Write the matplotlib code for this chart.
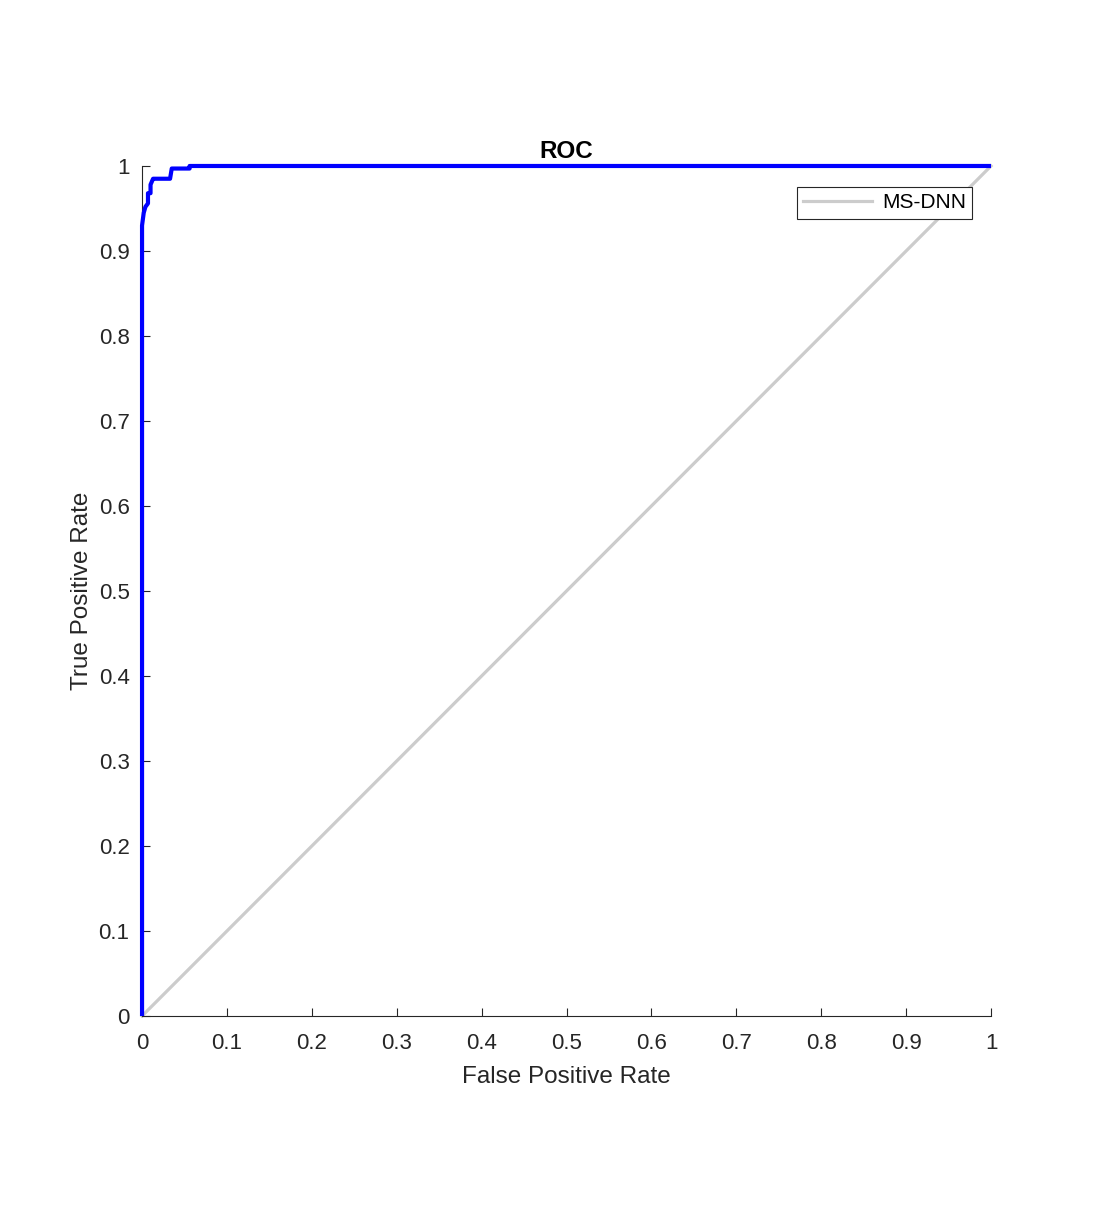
import matplotlib.pyplot as plt
import numpy as np

# ROC curve
fpr = [0, 0, 0.002, 0.004, 0.007, 0.007, 0.010, 0.010, 0.013, 0.015, 0.033, 0.035, 0.056, 0.056, 1.0]
tpr = [0, 0.93, 0.945, 0.952, 0.956, 0.968, 0.968, 0.978, 0.985, 0.985, 0.985, 0.997, 0.997, 1.0, 1.0]
chance = [0, 1]
ticks = np.round(np.arange(0, 1.01, 0.1), 1)
tick_labels = ['0'] + ['%.1f' % t for t in ticks[1:-1]] + ['1']

plt.rcParams['font.family'] = ['Liberation Sans', 'DejaVu Sans']
txt = '#262626'

fig = plt.figure(figsize=(10.96, 12.25), dpi=100)
ax = fig.add_axes([0.1296, 0.1706, 0.7746, 0.6939])

ax.plot(fpr, tpr, color='#0000ff', lw=3, solid_capstyle='butt', clip_on=False, zorder=3)
ax.plot(chance, chance, color='#cccccc', lw=2.3, label='MS-DNN', clip_on=False, zorder=2)

ax.set_xlim(0, 1)
ax.set_ylim(0, 1)
ax.set_xticks(ticks)
ax.set_xticklabels(tick_labels)
ax.set_yticks(ticks)
ax.set_yticklabels(tick_labels)
ax.spines['top'].set_visible(False)
ax.spines['right'].set_visible(False)
for s in ('left', 'bottom'):
    ax.spines[s].set_color(txt)
    ax.spines[s].set_linewidth(0.8)
ax.tick_params(direction='in', length=6, width=0.8, colors=txt, labelsize=16)
ax.tick_params(axis='x', pad=12)
ax.tick_params(axis='y', pad=9)

ax.set_xlabel('False Positive Rate', fontsize=17.5, color=txt, labelpad=9)
ax.set_ylabel('True Positive Rate', fontsize=17.5, color=txt, labelpad=4)
ax.set_title('ROC', fontsize=17.5, fontweight='bold', pad=6)

leg = ax.legend(loc='upper right', bbox_to_anchor=(0.978, 0.975), borderaxespad=0,
                fontsize=15, fancybox=False, framealpha=1, edgecolor='#262626',
                handlelength=3.3, borderpad=0.3, handletextpad=0.5)
leg.get_frame().set_linewidth(0.8)

fig.savefig('out.png', dpi=100)
